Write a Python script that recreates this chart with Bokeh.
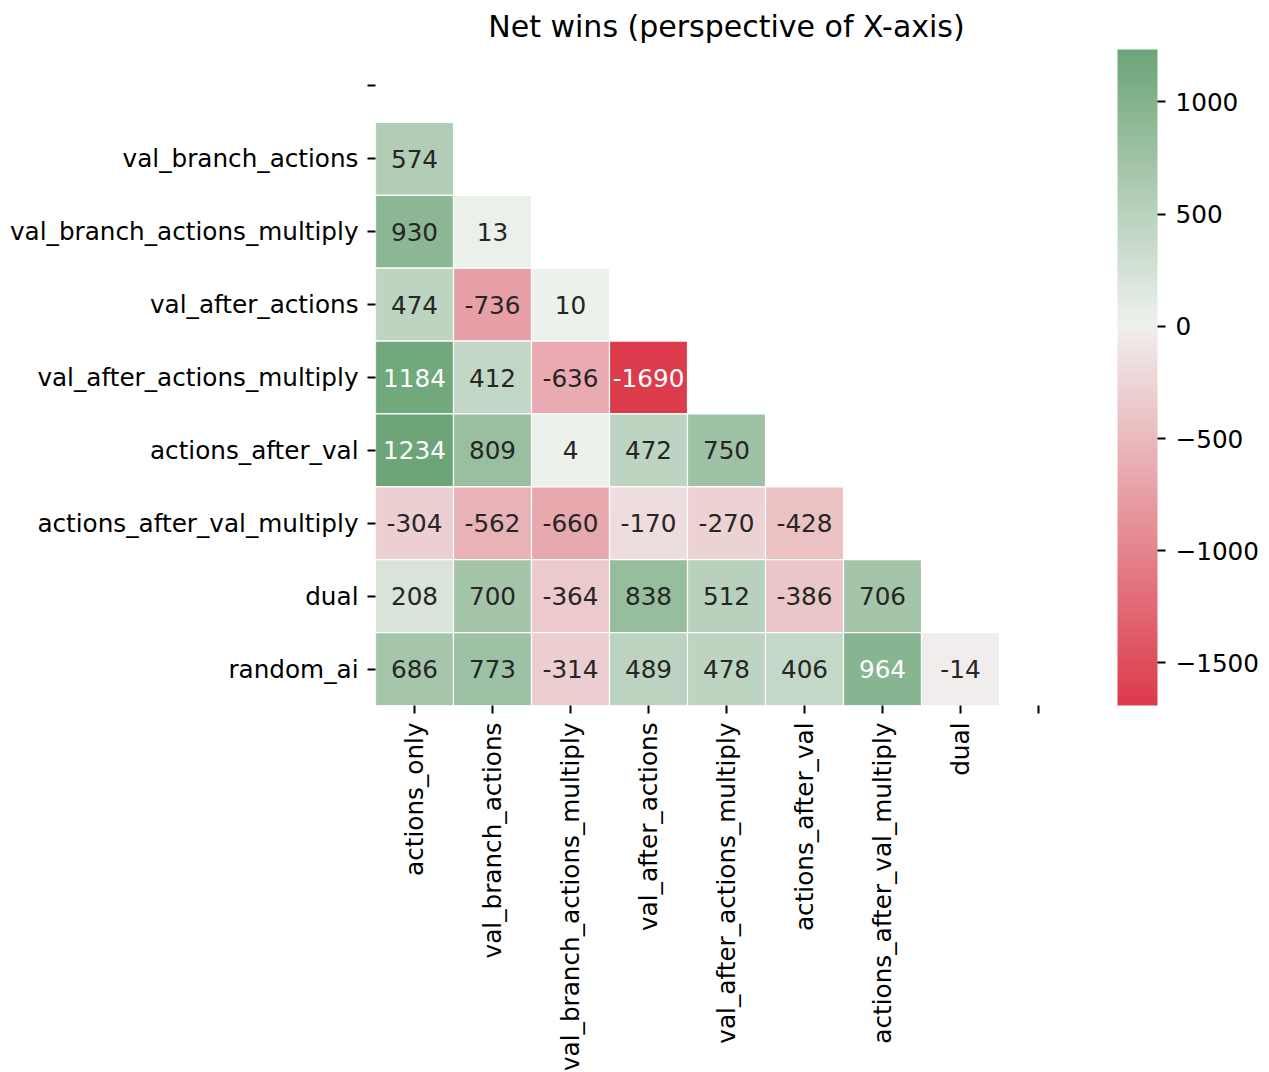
import math
from bokeh.plotting import figure
from bokeh.models import (ColumnDataSource, LinearColorMapper, ColorBar, FixedTicker, Range1d)
from bokeh.core.properties import value
from bokeh.embed import file_html
from bokeh.resources import INLINE

# ---- data ----
agents = ["actions_only", "val_branch_actions", "val_branch_actions_multiply",
          "val_after_actions", "val_after_actions_multiply", "actions_after_val",
          "actions_after_val_multiply", "dual", "random_ai"]
y_labels = [""] + agents[1:]
x_labels = agents[:-1] + [""]

row_val_branch_actions = [574]
row_val_branch_actions_multiply = [930, 13]
row_val_after_actions = [474, -736, 10]
row_val_after_actions_multiply = [1184, 412, -636, -1690]
row_actions_after_val = [1234, 809, 4, 472, 750]
row_actions_after_val_multiply = [-304, -562, -660, -170, -270, -428]
row_dual = [208, 700, -364, 838, 512, -386, 706]
row_random_ai = [686, 773, -314, 489, 478, 406, 964, -14]

rows = [[], row_val_branch_actions, row_val_branch_actions_multiply, row_val_after_actions,
        row_val_after_actions_multiply, row_actions_after_val, row_actions_after_val_multiply,
        row_dual, row_random_ai]

cbar_ticks = [-1500, -1000, -500, 0, 500, 1000]

# ---- colour map (diverging red -> light -> green, centred at 0) ----
VMIN, VMAX = -1690, 1234
VR = max(abs(VMIN), abs(VMAX))
RED = (220, 58, 74)
RED_L = (240, 239, 238)
MID = (242, 242, 242)
GRN_L = (238, 241, 237)
GRN = (60, 136, 76)


def lerp(a, b, f):
    return tuple(a[k] + (b[k] - a[k]) * f for k in range(3))


def cmap(v):
    t = (v + VR) / (2 * VR)
    if t < 0.5:
        return lerp(RED, RED_L, t / 0.5)
    if t == 0.5:
        return MID
    return lerp(GRN_L, GRN, (t - 0.5) / 0.5)


def hexc(c):
    return "#%02x%02x%02x" % tuple(int(round(x)) for x in c)


def lum(c):
    def lin(x):
        x = x / 255.0
        return x / 12.92 if x <= 0.03928 else ((x + 0.055) / 1.055) ** 2.4
    r, g, b = (lin(x) for x in c)
    return 0.2126 * r + 0.7152 * g + 0.0722 * b


N = 256
palette = [hexc(cmap(VMIN + (VMAX - VMIN) * (k + 0.5) / N)) for k in range(N)]
mapper = LinearColorMapper(palette=palette, low=VMIN, high=VMAX)

xs, ys, vals, txt, tcol = [], [], [], [], []
for i, r in enumerate(rows):
    for j, v in enumerate(r):
        xs.append(j + 0.5)
        ys.append(i + 0.5)
        vals.append(v)
        txt.append(str(v))
        tcol.append("#262626" if lum(cmap(v)) > 0.408 else "#ffffff")

src = ColumnDataSource(dict(x=xs, y=ys, val=vals, txt=txt, tcol=tcol))

FS = "24.7px"

p = figure(frame_width=702, frame_height=656,
           x_range=Range1d(0, 9), y_range=Range1d(9, 0),
           output_backend="svg", toolbar_location=None,
           min_border_left=375, min_border_top=46, min_border_right=10,
           min_border_bottom=5,
           title="Net wins (perspective of X-axis)")
p.title.align = "center"
p.title.text_font = "DejaVu Sans"
p.title.text_font_size = "30px"
p.title.text_font_style = "normal"
p.title.text_color = "#000000"
p.title.standoff = 12

p.rect(x="x", y="y", width=1, height=1, source=src,
       fill_color={"field": "val", "transform": mapper},
       line_color="white", line_width=1.2)
p.text(x="x", y="y", text="txt", source=src, text_color="tcol",
       text_align="center", text_baseline="middle",
       text_font=value("DejaVu Sans"), text_font_size=FS)

p.xgrid.visible = False
p.ygrid.visible = False
p.outline_line_color = None

for ax, labels in ((p.xaxis[0], x_labels), (p.yaxis[0], y_labels)):
    ticks = [k + 0.5 for k in range(len(labels))]
    ax.ticker = FixedTicker(ticks=ticks)
    ax.major_label_overrides = {t: l for t, l in zip(ticks, labels)}
    ax.axis_line_color = None
    ax.major_tick_out = 8
    ax.major_tick_in = 0
    ax.major_tick_line_width = 2
    ax.major_tick_line_color = "#000000"
    ax.minor_tick_line_color = None
    ax.major_label_text_font = "DejaVu Sans"
    ax.major_label_text_font_size = FS
    ax.major_label_text_color = "#000000"
    ax.major_label_standoff = 9
p.xaxis.major_label_orientation = math.pi / 2

cb = ColorBar(color_mapper=mapper, ticker=FixedTicker(ticks=cbar_ticks),
              width=40, height=656, location=(40, 0), padding=0, margin=0,
              major_label_overrides={t: (str(t).replace("-", "\u2212")) for t in cbar_ticks},
              major_label_text_font="DejaVu Sans", major_label_text_font_size=FS,
              major_label_text_color="#000000",
              major_tick_out=8, major_tick_in=0, major_tick_line_color="#000000",
              major_tick_line_width=2, minor_tick_line_color=None,
              bar_line_color=None, border_line_color=None, label_standoff=10,
              background_fill_color=None)
p.add_layout(cb, "right")

open("out.html", "w").write(file_html(p, INLINE))
